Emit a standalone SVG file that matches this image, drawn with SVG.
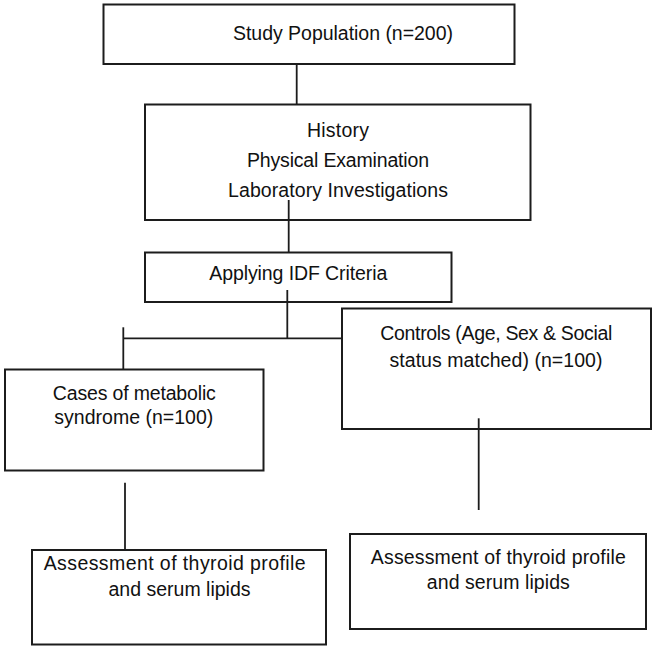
<svg xmlns="http://www.w3.org/2000/svg" width="656" height="650" viewBox="0 0 656 650">
<style>
.box{fill:#fff;stroke:#1c1c1c;stroke-width:2}
.ln{fill:none;stroke:#1c1c1c;stroke-width:1.8}
text{font-family:"Liberation Sans",Arial,sans-serif;font-size:19.5px;fill:#111;text-anchor:middle}
</style>
<rect width="656" height="650" fill="#fff"/>
<g id="n1"><rect class="box" x="103.5" y="4.5" width="411" height="59.5"/><text x="343" y="39.5" textLength="220">Study Population (n=200)</text></g>
<g id="n2"><rect class="box" x="145" y="104.5" width="385.5" height="115.5"/><text x="338" y="136.5" textLength="62">History</text><text x="338" y="166.5" textLength="182">Physical Examination</text><text x="338" y="196.5" textLength="220">Laboratory Investigations</text></g>
<g id="n3"><rect class="box" x="145" y="252.5" width="306.5" height="49.5"/><text x="298.3" y="280" textLength="178">Applying IDF Criteria</text></g>
<g id="n4"><rect class="box" x="5" y="369.5" width="258.5" height="101"/><text x="134.3" y="399.5" textLength="163">Cases of metabolic</text><text x="133.8" y="423.5" textLength="159">syndrome (n=100)</text></g>
<g id="n5"><rect class="box" x="342" y="308.5" width="309" height="120.5"/><text x="496.3" y="340" textLength="232">Controls (Age, Sex &amp; Social</text><text x="496" y="366.5" textLength="213">status matched) (n=100)</text></g>
<g id="n6"><rect class="box" x="32" y="550" width="294" height="94.5"/><text x="174.7" y="570" textLength="262">Assessment of thyroid profile</text><text x="179.5" y="596" textLength="142">and serum lipids</text></g>
<g id="n7"><rect class="box" x="350" y="534" width="296" height="95"/><text x="498.3" y="564" textLength="255">Assessment of thyroid profile</text><text x="498.3" y="588.5" textLength="143">and serum lipids</text></g>
<g id="connectors">
<line class="ln" x1="296.7" y1="64" x2="296.7" y2="104.5"/>
<line class="ln" x1="288.7" y1="200" x2="288.7" y2="252.5"/>
<line class="ln" x1="287.3" y1="290" x2="287.3" y2="338.3"/>
<line class="ln" x1="123.3" y1="338.3" x2="342" y2="338.3"/>
<line class="ln" x1="123.3" y1="327.3" x2="123.3" y2="369.5"/>
<line class="ln" x1="125" y1="482.7" x2="125" y2="550"/>
<line class="ln" x1="478.7" y1="418.3" x2="478.7" y2="510"/>
</g>
</svg>
